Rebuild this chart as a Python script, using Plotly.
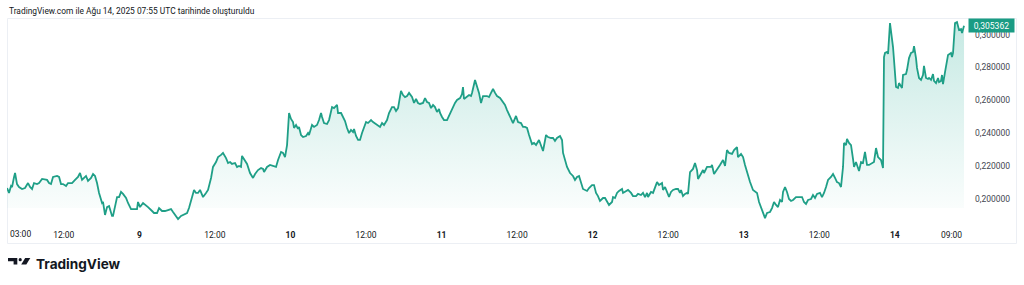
import pandas as pd
import plotly.graph_objects as go

# ---------------- data ----------------
base_time = "2025-08-08 00:00"  # local time (UTC+3)
hours = [
    2.99, 3.30, 3.62, 3.78, 4.10, 4.26, 4.57, 4.89, 5.37, 5.84, 6.32, 6.64, 6.96, 7.27, 7.75, 8.07,
    8.55, 9.34, 9.66, 9.97, 10.29, 10.93, 11.25, 11.56, 11.88, 12.36, 12.67, 13.31, 13.79, 14.26,
    14.58, 14.90, 15.22, 15.53, 15.85, 16.33, 16.65, 16.96, 17.28, 17.60, 18.08, 18.23, 18.55,
    18.87, 19.19, 19.66, 19.82, 20.30, 20.46, 20.78, 21.09, 21.41, 21.89, 22.20, 22.68, 23.16,
    23.63, 23.79, 24.11, 24.59, 25.06, 25.38, 26.02, 26.33, 26.81, 27.13, 27.60, 28.08, 28.56,
    29.03, 29.35, 29.83, 30.15, 30.62, 30.94, 31.58, 31.89, 32.37, 32.69, 33.00, 33.32, 33.64,
    33.80, 34.12, 34.59, 34.91, 35.39, 35.70, 36.18, 36.50, 36.98, 37.29, 37.77, 38.09, 38.41,
    38.72, 39.20, 39.52, 39.83, 40.15, 40.31, 40.79, 41.11, 41.58, 42.06, 42.38, 42.85, 43.33,
    43.65, 43.81, 44.28, 44.76, 45.24, 45.71, 46.03, 46.51, 46.82, 47.14, 47.46, 47.78, 48.09,
    48.41, 48.57, 48.89, 49.21, 49.36, 49.68, 50.00, 50.48, 50.79, 50.95, 51.43, 51.75, 52.22,
    52.54, 52.86, 53.02, 53.33, 53.81, 54.13, 54.61, 54.92, 55.40, 55.56, 56.04, 56.35, 56.67,
    56.99, 57.31, 57.62, 57.94, 58.10, 58.42, 58.74, 59.05, 59.37, 59.69, 60.01, 60.32, 60.80,
    61.12, 61.75, 62.23, 62.55, 62.86, 63.34, 63.66, 64.13, 64.45, 64.77, 65.09, 65.56, 65.88,
    66.20, 66.52, 66.84, 67.31, 67.63, 67.95, 68.26, 68.58, 69.06, 69.38, 69.69, 70.01, 70.33,
    70.65, 70.96, 71.28, 71.60, 71.76, 72.08, 72.39, 72.87, 73.03, 73.35, 73.67, 74.14, 74.46,
    74.94, 75.25, 75.41, 75.57, 76.05, 76.37, 76.68, 76.84, 77.32, 77.64, 77.95, 78.27, 78.59,
    79.22, 79.54, 79.86, 80.18, 80.50, 80.81, 81.29, 81.77, 82.08, 82.40, 82.72, 83.20, 83.35,
    83.83, 84.15, 84.62, 84.94, 85.26, 85.58, 85.90, 86.37, 86.69, 87.01, 87.48, 87.80, 88.12,
    88.60, 88.91, 89.39, 89.71, 90.02, 90.34, 90.82, 91.14, 91.30, 91.61, 91.93, 92.41, 92.88,
    93.20, 93.52, 93.84, 94.15, 94.47, 95.11, 95.43, 95.90, 96.22, 96.54, 96.85, 97.17, 97.65,
    97.97, 98.28, 98.60, 99.08, 99.24, 99.55, 99.87, 100.19, 100.67, 100.83, 101.30, 101.62,
    102.10, 102.41, 102.89, 103.21, 103.68, 104.00, 104.32, 104.64, 104.80, 105.27, 105.59,
    105.91, 106.23, 106.54, 107.02, 107.18, 107.50, 107.81, 108.13, 108.45, 108.77, 109.24,
    109.56, 109.88, 110.04, 110.35, 110.67, 110.99, 111.15, 111.47, 111.94, 112.26, 112.58,
    112.74, 113.21, 113.53, 113.69, 114.17, 114.80, 114.96, 115.28, 115.76, 116.23, 116.71,
    117.03, 117.34, 117.66, 118.14, 118.46, 118.93, 119.09, 119.57, 119.89, 120.20, 120.52,
    121.00, 121.47, 121.79, 122.11, 122.43, 122.90, 123.22, 123.38, 123.70, 124.17, 124.49,
    124.81, 125.13, 125.44, 125.76, 126.08, 126.24, 126.56, 126.87, 127.19, 127.51, 127.83,
    128.30, 128.62, 129.26, 129.57, 129.89, 130.21, 130.69, 131.00, 131.32, 131.64, 132.11,
    132.43, 132.75, 133.07, 133.39, 133.86, 134.18, 134.50, 134.81, 135.13, 135.45, 135.77,
    135.93, 136.24, 136.40, 136.72, 137.04, 137.36, 137.52, 137.83, 138.15, 138.31, 138.63,
    138.94, 139.26, 139.58, 139.90, 140.37, 140.69, 141.01, 141.33, 141.80, 142.12, 142.28,
    142.44, 142.76, 142.92, 143.23, 143.55, 143.71, 143.87, 144.19, 144.50, 144.66, 145.14,
    145.30, 145.77, 145.93, 146.25, 146.57, 146.89, 147.05, 147.36, 147.52, 147.84, 148.16,
    148.47, 148.63, 148.95, 149.27, 149.43, 149.75, 150.06, 150.22, 150.54, 150.86, 151.02,
    151.33, 151.49, 151.65, 151.97, 152.29, 152.45, 152.92, 153.08, 153.24, 153.56, 153.87,
    154.03, 154.19, 154.51, 154.67, 154.99,
]
prices = [
    0.2067, 0.2037, 0.2079, 0.2073, 0.2134, 0.2158, 0.2091, 0.2073, 0.2061, 0.2067, 0.2097, 0.2073,
    0.2061, 0.2097, 0.2091, 0.2097, 0.2122, 0.2116, 0.2097, 0.2091, 0.2134, 0.2140, 0.2134, 0.2091,
    0.2091, 0.2079, 0.2097, 0.2097, 0.2116, 0.2134, 0.2158, 0.2116, 0.2128, 0.2140, 0.2110, 0.2128,
    0.2152, 0.2140, 0.2097, 0.2037, 0.1976, 0.1982, 0.1903, 0.1951, 0.1957, 0.1897, 0.1897, 0.1970,
    0.2012, 0.2012, 0.2043, 0.2031, 0.2006, 0.1976, 0.1939, 0.1939, 0.1939, 0.1982, 0.1951, 0.1976,
    0.1964, 0.1951, 0.1927, 0.1915, 0.1915, 0.1945, 0.1927, 0.1927, 0.1933, 0.1939, 0.1921, 0.1897,
    0.1878, 0.1897, 0.1903, 0.1915, 0.1945, 0.2006, 0.2055, 0.2037, 0.2037, 0.2055, 0.2037, 0.2012,
    0.2037, 0.2055, 0.2128, 0.2195, 0.2225, 0.2255, 0.2268, 0.2280, 0.2249, 0.2219, 0.2225, 0.2213,
    0.2219, 0.2195, 0.2201, 0.2195, 0.2262, 0.2231, 0.2213, 0.2158, 0.2128, 0.2152, 0.2176, 0.2189,
    0.2183, 0.2164, 0.2195, 0.2207, 0.2201, 0.2195, 0.2237, 0.2286, 0.2280, 0.2255, 0.2328, 0.2523,
    0.2487, 0.2468, 0.2432, 0.2450, 0.2426, 0.2438, 0.2389, 0.2377, 0.2383, 0.2401, 0.2389, 0.2450,
    0.2438, 0.2450, 0.2480, 0.2523, 0.2499, 0.2462, 0.2456, 0.2480, 0.2559, 0.2553, 0.2572, 0.2523,
    0.2523, 0.2499, 0.2474, 0.2432, 0.2401, 0.2420, 0.2407, 0.2426, 0.2383, 0.2359, 0.2359, 0.2401,
    0.2432, 0.2468, 0.2462, 0.2480, 0.2468, 0.2450, 0.2438, 0.2462, 0.2450, 0.2480, 0.2523, 0.2559,
    0.2559, 0.2535, 0.2553, 0.2657, 0.2632, 0.2620, 0.2626, 0.2645, 0.2620, 0.2584, 0.2608, 0.2584,
    0.2578, 0.2584, 0.2614, 0.2590, 0.2584, 0.2553, 0.2572, 0.2559, 0.2529, 0.2547, 0.2523, 0.2499,
    0.2480, 0.2480, 0.2493, 0.2523, 0.2547, 0.2584, 0.2602, 0.2614, 0.2638, 0.2681, 0.2608, 0.2620,
    0.2632, 0.2626, 0.2645, 0.2724, 0.2681, 0.2645, 0.2584, 0.2626, 0.2626, 0.2620, 0.2645, 0.2669,
    0.2645, 0.2626, 0.2614, 0.2584, 0.2572, 0.2541, 0.2511, 0.2468, 0.2462, 0.2505, 0.2468, 0.2462,
    0.2438, 0.2438, 0.2432, 0.2389, 0.2334, 0.2341, 0.2328, 0.2359, 0.2322, 0.2292, 0.2389, 0.2377,
    0.2371, 0.2371, 0.2353, 0.2371, 0.2383, 0.2359, 0.2280, 0.2237, 0.2195, 0.2158, 0.2140, 0.2116,
    0.2134, 0.2140, 0.2097, 0.2061, 0.2049, 0.2067, 0.2085, 0.2085, 0.2037, 0.2018, 0.1988, 0.2006,
    0.2006, 0.1988, 0.1964, 0.1982, 0.2012, 0.2006, 0.2037, 0.2049, 0.2061, 0.2037, 0.2049, 0.2055,
    0.2037, 0.2018, 0.2018, 0.2031, 0.2024, 0.2037, 0.2012, 0.2037, 0.2012, 0.2043, 0.2037, 0.2073,
    0.2103, 0.2085, 0.2097, 0.2055, 0.2073, 0.2043, 0.2012, 0.2043, 0.2055, 0.2061, 0.2061, 0.2037,
    0.2055, 0.2018, 0.2031, 0.2037, 0.2031, 0.2164, 0.2183, 0.2219, 0.2176, 0.2122, 0.2158, 0.2176,
    0.2158, 0.2195, 0.2195, 0.2207, 0.2152, 0.2176, 0.2207, 0.2237, 0.2201, 0.2298, 0.2280, 0.2274,
    0.2298, 0.2316, 0.2255, 0.2274, 0.2255, 0.2207, 0.2164, 0.2103, 0.2055, 0.2043, 0.2037, 0.1982,
    0.1933, 0.1897, 0.1884, 0.1915, 0.1921, 0.1945, 0.1982, 0.1964, 0.1951, 0.1994, 0.1982, 0.2043,
    0.2073, 0.2043, 0.2000, 0.1988, 0.1994, 0.2012, 0.2012, 0.2012, 0.1982, 0.1970, 0.1994, 0.2000,
    0.2024, 0.2006, 0.2031, 0.2037, 0.2012, 0.2037, 0.2073, 0.2116, 0.2134, 0.2152, 0.2128, 0.2103,
    0.2097, 0.2073, 0.2195, 0.2341, 0.2328, 0.2365, 0.2341, 0.2328, 0.2243, 0.2195, 0.2225, 0.2189,
    0.2170, 0.2225, 0.2219, 0.2286, 0.2207, 0.2207, 0.2219, 0.2225, 0.2310, 0.2255, 0.2237, 0.2189,
    0.2863, 0.2888, 0.2894, 0.2882, 0.3070, 0.2985, 0.2924, 0.2845, 0.2681, 0.2675, 0.2705, 0.2675,
    0.2754, 0.2760, 0.2784, 0.2857, 0.2888, 0.2894, 0.2930, 0.2857, 0.2797, 0.2736, 0.2724, 0.2754,
    0.2809, 0.2736, 0.2730, 0.2736, 0.2724, 0.2760, 0.2718, 0.2705, 0.2736, 0.2711, 0.2718, 0.2754,
    0.2699, 0.2772, 0.2857, 0.2876, 0.2888, 0.2863, 0.2888, 0.3070, 0.3076, 0.3040, 0.3028, 0.3034,
    0.3009, 0.305362,
]
last_price_label = "0,305362"
fill_floor = 0.1945

y_ticks = [0.20, 0.22, 0.24, 0.26, 0.28, 0.30]
x_tick_times = ["2025-08-08 12:00", "2025-08-09 00:00", "2025-08-09 12:00", "2025-08-10 00:00",
                "2025-08-10 12:00", "2025-08-11 00:00", "2025-08-11 12:00", "2025-08-12 00:00",
                "2025-08-12 12:00", "2025-08-13 00:00", "2025-08-13 12:00", "2025-08-14 00:00",
                "2025-08-14 09:00"]
x_tick_text = ["12:00", "<b>9</b>", "12:00", "<b>10</b>", "12:00", "<b>11</b>", "12:00",
               "<b>12</b>", "12:00", "<b>13</b>", "12:00", "<b>14</b>", "09:00"]
first_tick_label = "03:00"
title_text = "TradingView.com ile Ağu 14, 2025 07:55 UTC tarihinde oluşturuldu"

# ---------------- figure ----------------
t0 = pd.Timestamp(base_time)
times = [t0 + pd.Timedelta(hours=h) for h in hours]

W, H = 1024, 285
ML, MR, MT, MB = 7, 56, 18, 63
PW, PH = W - ML - MR, H - MT - MB


def px(x):
    return (x - ML) / PW


def py(y):
    return (H - MB - y) / PH


LINE = "#1f9f87"
TEXT = "#131722"
AXT = "#434651"

fig = go.Figure()
fig.add_trace(go.Scatter(x=[times[0], times[-1]], y=[fill_floor, fill_floor], mode="lines",
                         line=dict(width=0, color="rgba(0,0,0,0)"), hoverinfo="skip",
                         showlegend=False))
fig.add_trace(go.Scatter(
    x=times, y=prices, mode="lines", line=dict(color=LINE, width=1.8),
    fill="tonexty",
    fillgradient=dict(type="vertical",
                      colorscale=[[0, "rgba(34,171,148,0.01)"], [1, "rgba(34,171,148,0.26)"]]),
    showlegend=False,
))

x_start = t0 + pd.Timedelta(hours=2.98)
x_end = t0 + pd.Timedelta(hours=155.62)

fig.update_layout(
    width=W, height=H, margin=dict(l=ML, r=MR, t=MT, b=MB),
    paper_bgcolor="white", plot_bgcolor="white",
    separators=",.",
    font=dict(family="Roboto", color=AXT, size=8),
    xaxis=dict(range=[x_start, x_end], showgrid=False, zeroline=False, showline=False,
               tickvals=[pd.Timestamp(t) for t in x_tick_times], ticktext=x_tick_text,
               ticks="", tickfont=dict(size=8.5, color=TEXT, family="Roboto"),
               ticklabelstandoff=6),
    yaxis=dict(range=[0.18602, 0.31006], side="right", showgrid=False, zeroline=False,
               showline=False, tickvals=y_ticks, tickformat=".6f", ticks="",
               tickfont=dict(size=8.5, color=AXT, family="Roboto"), ticklabelstandoff=6),
    shapes=[
        dict(type="rect", xref="paper", yref="paper", x0=px(7.5), x1=px(1016.5), y0=py(243.5),
             y1=py(18.5), line=dict(color="#eceff4", width=1), layer="below"),
        # TradingView logo
        dict(type="path", xref="paper", yref="paper", fillcolor=TEXT, line=dict(width=0),
             path=(f"M {px(8)} {py(258)} L {px(17.3)} {py(258)} L {px(17.3)} {py(264.6)} "
                   f"L {px(13.6)} {py(264.6)} L {px(13.6)} {py(261.2)} L {px(8)} {py(261.2)} Z")),
        dict(type="circle", xref="paper", yref="paper", fillcolor=TEXT, line=dict(width=0),
             x0=px(18.6), x1=px(21.8), y0=py(261.3), y1=py(258.1)),
        dict(type="path", xref="paper", yref="paper", fillcolor=TEXT, line=dict(width=0),
             path=(f"M {px(25.2)} {py(258)} L {px(30.3)} {py(258)} L {px(26.3)} {py(264.6)} "
                   f"L {px(21.2)} {py(264.6)} Z")),
    ],
    annotations=[
        dict(text=title_text, xref="paper", yref="paper", x=px(7), y=py(11), xanchor="left",
             yanchor="middle", showarrow=False, font=dict(size=8.4, color=TEXT, family="Roboto")),
        dict(text=first_tick_label, xref="paper", yref="paper", x=px(8), y=py(233.5),
             xanchor="left", yanchor="middle", showarrow=False,
             font=dict(size=8.5, color=TEXT, family="Roboto")),
        dict(text=last_price_label, xref="paper", yref="y", x=1, y=prices[-1], xanchor="left",
             yanchor="middle", showarrow=False, bgcolor="#1a9c84", width=43, height=11,
             borderpad=1, font=dict(size=8.5, color="white", family="Roboto")),
        dict(text="<b>TradingView</b>", xref="paper", yref="paper", x=px(33.5), y=py(264),
             xanchor="left", yanchor="middle", showarrow=False,
             font=dict(size=13.6, color=TEXT, family="Inter")),
    ],
)

fig.write_html("out.html")
